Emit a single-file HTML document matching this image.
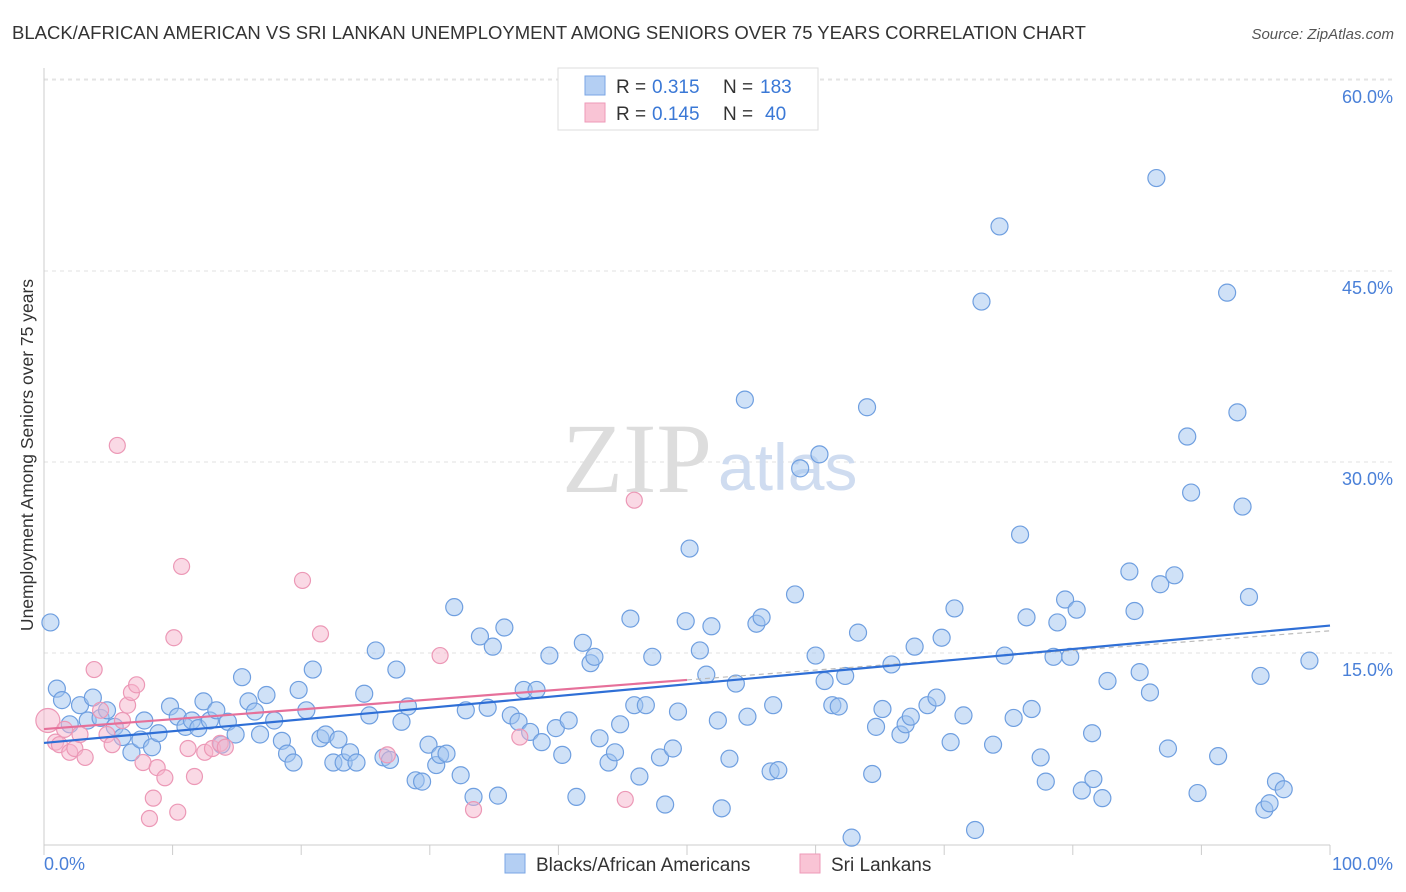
<!DOCTYPE html>
<html><head><meta charset="utf-8"><style>
body{margin:0;background:#fff;font-family:"Liberation Sans",sans-serif;}
svg{display:block}
</style></head><body>
<svg width="1406" height="892" xmlns="http://www.w3.org/2000/svg">
<text x="12" y="39" font-size="18.5" fill="#333">BLACK/AFRICAN AMERICAN VS SRI LANKAN UNEMPLOYMENT AMONG SENIORS OVER 75 YEARS CORRELATION CHART</text>
<text x="1394" y="39" font-size="15" fill="#555" font-style="italic" text-anchor="end">Source: ZipAtlas.com</text>
<g id="grid"></g>
<text x="712" y="492" font-size="100" font-family="Liberation Serif,serif" fill="#ddd" text-anchor="end">ZIP</text>
<text x="718" y="490" font-size="66" fill="#cfdcf0">atlas</text>
<g id="axes"></g>
<g id="pts"></g>
<g id="lines"></g>
<g>
<rect x="558" y="68" width="260" height="62" fill="#fff" stroke="#ddd"/>
<rect x="585" y="76" width="20" height="19" fill="#b4cff3" stroke="#7aa6e4"/>
<rect x="585" y="103" width="20" height="19" fill="#f9c4d5" stroke="#ee9ab8"/>
<text x="616" y="93" font-size="19" fill="#333">R =</text>
<text x="652" y="93" font-size="19" fill="#3a78d6">0.315</text>
<text x="723" y="93" font-size="19" fill="#333">N =</text>
<text x="760" y="93" font-size="19" fill="#3a78d6">183</text>
<text x="616" y="120" font-size="19" fill="#333">R =</text>
<text x="652" y="120" font-size="19" fill="#3a78d6">0.145</text>
<text x="723" y="120" font-size="19" fill="#333">N =</text>
<text x="765" y="120" font-size="19" fill="#3a78d6">40</text>
</g>
<g>
<rect x="505" y="854" width="20" height="19" fill="#b4cff3" stroke="#7aa6e4"/>
<text x="536" y="871" font-size="19" fill="#333">Blacks/African Americans</text>
<rect x="800" y="854" width="20" height="19" fill="#f9c4d5" stroke="#ee9ab8"/>
<text x="831" y="871" font-size="19" fill="#333">Sri Lankans</text>
</g>
<text transform="translate(33,455) rotate(-90)" font-size="17.5" fill="#333" text-anchor="middle">Unemployment Among Seniors over 75 years</text>
</svg>
<script>
const yTicks=[15,30,45,60];
const yTickLabels=["15.0%","30.0%","45.0%","60.0%"];
const xLabels=["0.0%","100.0%"];
const blueX=[0.5,1.0,1.4,2.0,2.8,3.4,3.8,4.4,4.9,5.5,6.1,6.8,7.5,7.8,8.4,8.9,9.8,10.4,11.0,11.5,12.0,12.4,12.9,13.4,13.8,14.3,14.9,15.4,15.9,16.4,16.8,17.3,17.9,18.5,18.9,19.4,19.8,20.4,20.9,21.5,21.9,22.5,22.9,23.3,23.8,24.3,24.9,25.3,25.8,26.4,26.9,27.4,27.8,28.3,28.9,29.4,29.9,30.5,30.8,31.3,31.9,32.4,32.8,33.4,33.9,34.5,34.9,35.3,35.8,36.3,36.9,37.3,37.8,38.3,38.7,39.3,39.8,40.3,40.8,41.4,41.9,42.5,42.8,43.2,43.9,44.4,44.8,45.6,45.9,46.3,46.8,47.3,47.9,48.3,48.9,49.3,49.9,50.2,51.0,51.5,51.9,52.4,52.7,53.3,53.8,54.5,54.7,55.4,55.8,56.5,56.7,57.1,58.4,58.8,60.0,60.3,60.7,61.3,61.8,62.3,62.8,63.3,64.0,64.4,64.7,65.2,65.9,66.6,67.0,67.4,67.7,68.7,69.4,69.8,70.5,70.8,71.5,72.4,72.9,73.8,74.3,74.7,75.4,75.9,76.4,76.8,77.5,77.9,78.5,78.8,79.4,79.8,80.3,80.7,81.5,81.6,82.3,82.7,84.4,84.8,85.2,86.0,86.5,86.8,87.9,87.4,88.9,89.2,89.7,91.3,92.0,92.8,93.2,93.7,94.6,94.9,95.3,95.8,96.4,98.4];
const blueY=[17.4,12.2,11.3,9.4,10.9,9.7,11.5,9.9,10.5,9.2,8.4,7.2,8.2,9.7,7.6,8.7,10.8,10.0,9.2,9.7,9.1,11.2,9.7,10.5,7.8,9.6,8.6,13.1,11.2,10.4,8.6,11.7,9.7,8.1,7.1,6.4,12.1,10.5,13.7,8.3,8.6,6.4,8.2,6.4,7.2,6.4,11.8,10.1,15.2,6.8,6.6,13.7,9.6,10.8,5.0,4.9,7.8,6.2,7.0,7.1,18.6,5.4,10.5,3.7,16.3,10.7,15.5,3.8,17.0,10.1,9.6,12.1,8.8,12.1,8.0,14.8,9.1,7.0,9.7,3.7,15.8,14.2,14.7,8.3,6.4,7.2,9.4,17.7,10.9,5.3,10.9,14.7,6.8,3.1,7.5,10.4,17.5,23.2,15.2,13.3,17.1,9.7,2.8,6.7,12.6,34.9,10.0,17.3,17.8,5.7,10.9,5.8,19.6,29.5,14.8,30.6,12.8,10.9,10.8,13.2,0.5,16.6,34.3,5.5,9.2,10.6,14.1,8.6,9.4,10.0,15.5,10.9,11.5,16.2,8.0,18.5,10.1,1.1,42.6,7.8,48.5,14.8,9.9,24.3,17.8,10.6,6.8,4.9,14.7,17.4,19.2,14.7,18.4,4.2,8.7,5.1,3.6,12.8,21.4,18.3,13.5,11.9,52.3,20.4,21.1,7.5,32.0,27.6,4.0,6.9,43.3,33.9,26.5,19.4,13.2,2.7,3.2,4.9,4.3,14.4];
const pinkX=[0.3,0.9,1.2,1.6,2.0,2.4,2.8,3.2,3.9,4.4,4.9,5.3,5.7,6.1,6.5,6.8,7.2,7.7,8.2,8.5,8.8,9.4,10.1,10.4,10.7,11.2,11.7,12.5,13.1,13.7,14.1,20.1,21.5,26.7,30.8,33.4,37.0,45.2,45.9];
const pinkY=[9.7,8.0,7.8,9.0,7.2,7.5,8.6,6.8,13.7,10.5,8.6,7.8,31.3,9.7,10.9,11.9,12.5,6.4,2.0,3.6,6.0,5.2,16.2,2.5,21.8,7.5,5.3,7.2,7.5,7.9,7.6,20.7,16.5,7.0,14.8,2.7,8.4,3.5,27.0];
const pinkRange=[0,50];
const NS="http://www.w3.org/2000/svg";
const X0=44,X1=1330,Y0=844,YS=191/15;
const sx=v=>X0+(X1-X0)*v/100, sy=v=>Y0-v*YS;
function mk(t,a,p){const e=document.createElementNS(NS,t);for(const k in a)e.setAttribute(k,a[k]);p.appendChild(e);return e;}
const gridG=document.getElementById('grid'),axesG=document.getElementById('axes');
yTicks.forEach((t,i)=>{
 const l=mk('line',{x1:X0,x2:1394,y1:sy(t),y2:sy(t),stroke:'#e2e2e2','stroke-dasharray':'4,4'},gridG);
 
 
 const tx=mk('text',{x:1393,y:sy(t)+23,'font-size':18,fill:'#4a80d8','text-anchor':'end'},axesG);
 tx.textContent=yTickLabels[i];
 
 
});
const topGrid=mk('line',{x1:X0,x2:1394,y1:79,y2:79,stroke:'#e6e6e6','stroke-dasharray':'4,4'},gridG);


mk('line',{x1:X0,x2:X0,y1:68,y2:845,stroke:'#ccc'},axesG);
mk('line',{x1:X0,x2:X1,y1:845,y2:845,stroke:'#ccc'},axesG);
for(let i=0;i<=10;i++){const t=mk('line',{x1:sx(i*10),x2:sx(i*10),y1:845,y2:855,stroke:'#ccc'},axesG);
 
 }
const xl0=mk('text',{x:44,y:870,'font-size':18,fill:'#4a80d8'},axesG);xl0.textContent=xLabels[0];


const xl1=mk('text',{x:1393,y:870,'font-size':18,fill:'#4a80d8','text-anchor':'end'},axesG);xl1.textContent=xLabels[1];


const ptsG=document.getElementById('pts');
blueX.forEach((x,i)=>{const c=mk('circle',{cx:sx(x),cy:sy(blueY[i]),r:8.5,fill:'rgba(160,196,240,0.5)',stroke:'#6f9fe0','stroke-width':1.2},ptsG);
 
 });
pinkX.forEach((x,i)=>{const c=mk('circle',{cx:sx(x),cy:sy(pinkY[i]),r:i==0?12:8,fill:'rgba(245,180,204,0.5)',stroke:'#ec98b6','stroke-width':1.2},ptsG);
 
 });
function fit(X,Y){const n=X.length;let mx=0,my=0;X.forEach((x,i)=>{mx+=x;my+=Y[i]});mx/=n;my/=n;let a=0,b=0;X.forEach((x,i)=>{a+=(x-mx)*(Y[i]-my);b+=(x-mx)*(x-mx)});const s=a/b;return [s,my-s*mx];}
const linesG=document.getElementById('lines');
const [bs,bi]=fit(blueX,blueY),[ps,pi]=fit(pinkX,pinkY);
const pmax=pinkRange[1];
const pd=mk('line',{x1:sx(pmax),y1:sy(ps*pmax+pi),x2:sx(100),y2:sy(ps*100+pi),stroke:'#bbb','stroke-width':1.2,'stroke-dasharray':'5,4'},linesG);


const bl=mk('line',{x1:sx(0),y1:sy(bi),x2:sx(100),y2:sy(bs*100+bi),stroke:'#2f6fd6','stroke-width':2.2},linesG);


const pl=mk('line',{x1:sx(0),y1:sy(pi),x2:sx(pmax),y2:sy(ps*pmax+pi),stroke:'#e6709a','stroke-width':2.2},linesG);


</script>
</body></html>
